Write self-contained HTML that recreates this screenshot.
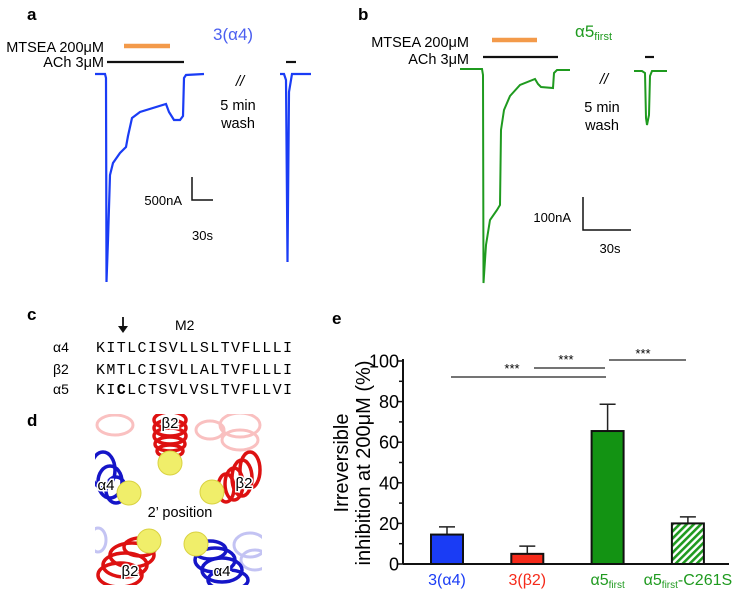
<!DOCTYPE html>
<html><head><meta charset="utf-8"><style>
body{margin:0;background:#fff;}
svg{display:block;font-family:"Liberation Sans",sans-serif;}
</style></head><body>
<svg width="750" height="592" viewBox="0 0 750 592" xmlns="http://www.w3.org/2000/svg">
<defs>
<pattern id="hatch" width="5" height="5" patternUnits="userSpaceOnUse" patternTransform="rotate(45)">
<rect width="5" height="5" fill="#fff"/><rect width="2.6" height="5" fill="#1f9a1f"/></pattern>
</defs>
<!-- Panel a -->
<g>
<text x="27" y="20" font-size="17" font-weight="bold">a</text>
<text x="104" y="52" font-size="14.5" text-anchor="end">MTSEA 200μM</text>
<text x="104" y="67" font-size="14.5" text-anchor="end">ACh 3μM</text>
<line x1="124" y1="46" x2="170" y2="46" stroke="#f39a4a" stroke-width="4.5"/>
<line x1="107" y1="62" x2="184" y2="62" stroke="#111" stroke-width="2.2"/>
<line x1="286" y1="62" x2="296" y2="62" stroke="#111" stroke-width="2.2"/>
<text x="213" y="40" font-size="17" fill="#4a5ef0">3(α4)</text>
<path d="M95,74 L105,74 L106,78 L106.5,282 L108,240 L110,175 L113,163 L120,153 L126,147 L128,136 L132,118 L140,112 L166,104 L169,112 L174,120 L180,120 L183,116 L184,78 L186,75 L204,74" fill="none" stroke="#1a3cf5" stroke-width="2.2"/>
<path d="M280,74 L284,74 L286,80 L287.5,262 L289,92 L292,74 L311,74" fill="none" stroke="#1a3cf5" stroke-width="2.2"/>
<text x="240" y="86" font-size="15" font-style="italic" text-anchor="middle">//</text>
<text x="238" y="110" font-size="14.5" text-anchor="middle">5 min</text>
<text x="238" y="128" font-size="14.5" text-anchor="middle">wash</text>
<path d="M192,177 L192,200 L213,200" fill="none" stroke="#111" stroke-width="1.5"/>
<text x="182" y="205" font-size="13" text-anchor="end">500nA</text>
<text x="192" y="240" font-size="13">30s</text>
</g>
<!-- Panel b -->
<g>
<text x="358" y="20" font-size="17" font-weight="bold">b</text>
<text x="469" y="47" font-size="14.5" text-anchor="end">MTSEA 200μM</text>
<text x="469" y="64" font-size="14.5" text-anchor="end">ACh 3μM</text>
<line x1="492" y1="40" x2="537" y2="40" stroke="#f39a4a" stroke-width="4.5"/>
<line x1="483" y1="57" x2="558" y2="57" stroke="#111" stroke-width="2.2"/>
<line x1="645" y1="57" x2="654" y2="57" stroke="#111" stroke-width="2.2"/>
<text x="575" y="37" font-size="17" fill="#1f9a1f">α5<tspan font-size="11" dy="3">first</tspan></text>
<path d="M460,69 L482,69 L483,75 L483.5,283 L486,245 L490,220 L497,210 L500,205 L501,130 L504,110 L510,96 L520,85 L535,79 L538,84 L541,87 L553,88 L554,73 L557,70 L570,70" fill="none" stroke="#1f9a1f" stroke-width="2"/>
<path d="M634,71 L642,71 L645,73 L646,118 L647,125 L649,115 L650,76 L652,71 L667,71" fill="none" stroke="#1f9a1f" stroke-width="2"/>
<text x="604" y="84" font-size="15" font-style="italic" text-anchor="middle">//</text>
<text x="602" y="112" font-size="14.5" text-anchor="middle">5 min</text>
<text x="602" y="130" font-size="14.5" text-anchor="middle">wash</text>
<path d="M583,197 L583,230 L631,230" fill="none" stroke="#111" stroke-width="1.5"/>
<text x="571" y="222" font-size="13" text-anchor="end">100nA</text>
<text x="610" y="253" font-size="13" text-anchor="middle">30s</text>
</g>
<!-- Panel c -->
<g>
<text x="27" y="320" font-size="17" font-weight="bold">c</text>
<line x1="123" y1="317" x2="123" y2="329" stroke="#111" stroke-width="1.8"/>
<path d="M118,326 L123,333 L128,326 Z" fill="#111"/>
<text x="175" y="330" font-size="14">M2</text>
<g font-size="14">
<text x="53" y="352">α4</text><text x="53" y="374">β2</text><text x="53" y="394">α5</text></g>
<g font-family="Liberation Mono,monospace" font-size="15">
<text x="96" y="352" textLength="196" lengthAdjust="spacing">KITLCISVLLSLTVFLLLI</text>
<text x="96" y="374" textLength="196" lengthAdjust="spacing">KMTLCISVLLALTVFLLLI</text>
<text x="96" y="394" textLength="196" lengthAdjust="spacing">KI<tspan font-weight="bold">C</tspan>LCTSVLVSLTVFLLVI</text>
</g>
</g>
<!-- Panel d -->
<g>
<text x="27" y="426" font-size="17" font-weight="bold">d</text>
<clipPath id="dclip"><rect x="95" y="414" width="167" height="171"/></clipPath>
<g clip-path="url(#dclip)">
<g fill="none" stroke-width="3" opacity="0.3" stroke="#e33">
<ellipse cx="115" cy="425" rx="18" ry="10"/><ellipse cx="240" cy="425" rx="20" ry="12"/><ellipse cx="240" cy="440" rx="18" ry="10"/><ellipse cx="210" cy="430" rx="14" ry="9"/>
</g>
<g fill="none" stroke-width="3" opacity="0.35" stroke="#55d"><ellipse cx="250" cy="545" rx="16" ry="12"/><ellipse cx="255" cy="560" rx="14" ry="10"/><ellipse cx="98" cy="540" rx="8" ry="12"/></g>
<g fill="none" stroke="#d11" stroke-width="3.5">
<ellipse cx="170" cy="420" rx="16" ry="8"/><ellipse cx="170" cy="428" rx="16" ry="8"/><ellipse cx="170" cy="436" rx="16" ry="8"/><ellipse cx="170" cy="444" rx="15" ry="7"/><ellipse cx="170" cy="451" rx="13" ry="6"/>
<ellipse cx="250" cy="470" rx="10" ry="18"/><ellipse cx="242" cy="478" rx="10" ry="18"/><ellipse cx="234" cy="484" rx="9" ry="16"/><ellipse cx="226" cy="488" rx="8" ry="14"/>
<ellipse cx="125" cy="565" rx="22" ry="12"/><ellipse cx="132" cy="555" rx="22" ry="12"/><ellipse cx="120" cy="575" rx="22" ry="12"/><ellipse cx="140" cy="547" rx="16" ry="9"/>
</g>
<g fill="none" stroke="#1515c8" stroke-width="3.5">
<ellipse cx="103" cy="470" rx="12" ry="18"/><ellipse cx="110" cy="482" rx="12" ry="16"/><ellipse cx="116" cy="490" rx="10" ry="13"/>
<ellipse cx="215" cy="560" rx="20" ry="12"/><ellipse cx="222" cy="570" rx="20" ry="12"/><ellipse cx="210" cy="550" rx="16" ry="9"/><ellipse cx="228" cy="580" rx="20" ry="10"/>
</g>
<rect x="95" y="506" width="167" height="15" fill="#fff"/>
<g fill="#f0ee6a" stroke="#d9d240" stroke-width="1">
<circle cx="170" cy="463" r="12"/><circle cx="129" cy="493" r="12"/><circle cx="212" cy="492" r="12"/><circle cx="149" cy="541" r="12"/><circle cx="196" cy="544" r="12"/>
</g>
<g font-size="15" text-anchor="middle">
<text x="170" y="428" paint-order="stroke" stroke="#fff" stroke-width="3">β2</text>
<text x="244" y="488" paint-order="stroke" stroke="#fff" stroke-width="3">β2</text>
<text x="106" y="490" paint-order="stroke" stroke="#fff" stroke-width="3">α4</text>
<text x="130" y="576" paint-order="stroke" stroke="#fff" stroke-width="3">β2</text>
<text x="222" y="576" paint-order="stroke" stroke="#fff" stroke-width="3">α4</text>
</g>
</g>
<text x="180" y="517" font-size="14.5" text-anchor="middle">2’ position</text>
</g>
<!-- Panel e -->
<g>
<text x="332" y="324" font-size="17" font-weight="bold">e</text>
<g id="chart"></g>
</g>
</svg>
<script>
const categories = ["3(α4)", "3(β2)", "α5first", "α5first-C261S"];
const means = [14.5, 5, 65.5, 20];
const errors = [3.8, 3.8, 13.2, 3.2];
const yTicks = [0, 20, 40, 60, 80, 100];
const NS = "http://www.w3.org/2000/svg";
const g = document.getElementById("chart");
const X0 = 403, X1 = 729, Y0 = 564, Y1 = 361;
const yScale = v => Y0 - (v / 100) * (Y0 - Y1);
const xCenter = i => 447 + i * 80.3;
const colors = ["#1a3cf5", "#f52a1a", "#139313", "url(#hatch)"];
const labelColors = ["#1a3cf5", "#f52a1a", "#1f9a1f", "#1f9a1f"];
function el(tag, attrs, parent) { const e = document.createElementNS(NS, tag); for (const k in attrs) e.setAttribute(k, attrs[k]); (parent || g).appendChild(e); return e; }
let ax = el("line", {x1: X0, y1: Y1 - 2, x2: X0, y2: Y0, stroke: "#111", "stroke-width": 2});


let bx = el("line", {x1: X0, y1: Y0, x2: X1, y2: Y0, stroke: "#111", "stroke-width": 2});


for (let v = 0; v <= 100; v += 10) {
  const major = v % 20 === 0;
  el("line", {x1: X0 - (major ? 6 : 4), y1: yScale(v), x2: X0, y2: yScale(v), stroke: "#111", "stroke-width": 1.5});
}
yTicks.forEach(v => {
  const t = el("text", {x: 399, y: yScale(v) + 6.5, "font-size": 18, "text-anchor": "end"});
  
  
  t.textContent = v;
});
const yt = el("text", {transform: "translate(348,463) rotate(-90)", "font-size": 20, "text-anchor": "middle"});


yt.textContent = "Irreversible";
const yt2 = el("text", {transform: "translate(370,463) rotate(-90)", "font-size": 20, "text-anchor": "middle"});


yt2.textContent = "inhibition at 200μM (%)";
const bw = 32;
means.forEach((m, i) => {
  const cx = xCenter(i), top = yScale(m + errors[i]);
  const eb = el("path", {d: `M${cx},${yScale(m)} L${cx},${top} M${cx - 8},${top} L${cx + 8},${top}`, stroke: "#222", "stroke-width": 1.5, fill: "none"});
  
  
  const r = el("rect", {x: cx - bw / 2, y: yScale(m), width: bw, height: Y0 - yScale(m), fill: colors[i], stroke: "#111", "stroke-width": 2});
  
  
  const t = el("text", {x: cx, y: 585, "font-size": 16, "text-anchor": "middle", fill: labelColors[i]});
  
  
  const c = categories[i];
  if (c.indexOf("first") >= 0) {
    const parts = c.split("first");
    t.appendChild(document.createTextNode(parts[0]));
    const s = document.createElementNS(NS, "tspan"); s.setAttribute("font-size", "10"); s.setAttribute("dy", "3"); s.textContent = "first"; t.appendChild(s);
    if (parts[1]) { const s2 = document.createElementNS(NS, "tspan"); s2.setAttribute("dy", "-3"); s2.textContent = parts[1]; t.appendChild(s2); }
  } else t.textContent = c;
});
const sig = [[451, 606, 377, 512, 369], [534, 605, 368, 566, 360], [609, 686, 360, 643, 354]];
sig.forEach(s => {
  const l = el("line", {x1: s[0], y1: s[2], x2: s[1], y2: s[2], stroke: "#222", "stroke-width": 1.3});
  
  
  const t = el("text", {x: s[3], y: s[4] + 4, "font-size": 13, "text-anchor": "middle"});
  
  
  t.textContent = "***";
});
</script>
</body></html>
